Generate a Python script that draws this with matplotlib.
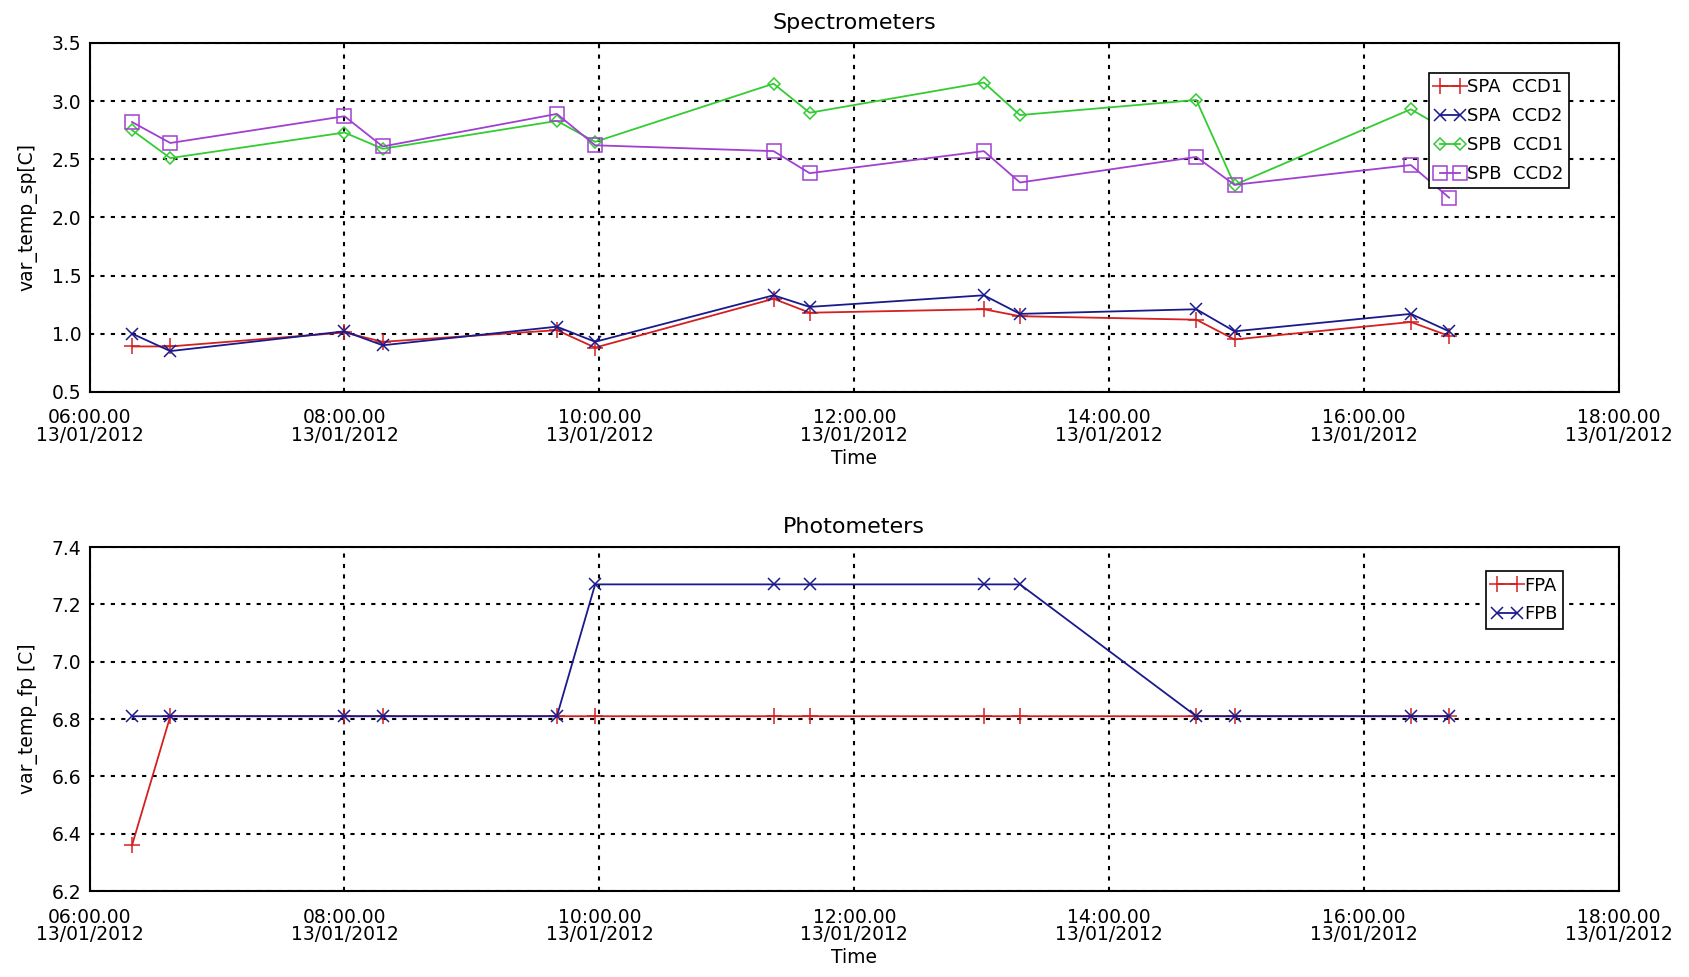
import matplotlib
matplotlib.use("Agg")
import matplotlib.pyplot as plt
from datetime import datetime

times = ["06:20", "06:38", "08:00", "08:18", "09:40", "09:58", "11:22",
         "11:39", "13:01", "13:18", "14:41", "14:59", "16:22", "16:40"]

spa_ccd1 = [0.89, 0.89, 1.01, 0.93, 1.03, 0.88, 1.30, 1.18, 1.21, 1.15, 1.12, 0.95, 1.10, 0.98]
spa_ccd2 = [1.00, 0.85, 1.02, 0.90, 1.06, 0.93, 1.33, 1.23, 1.33, 1.17, 1.21, 1.02, 1.17, 1.02]
spb_ccd1 = [2.75, 2.51, 2.73, 2.59, 2.83, 2.65, 3.15, 2.90, 3.16, 2.88, 3.01, 2.28, 2.93, 2.74]
spb_ccd2 = [2.82, 2.64, 2.87, 2.61, 2.89, 2.62, 2.57, 2.38, 2.57, 2.30, 2.52, 2.28, 2.45, 2.17]

fpa = [6.36, 6.81, 6.81, 6.81, 6.81, 6.81, 6.81, 6.81, 6.81, 6.81, 6.81, 6.81, 6.81, 6.81]
fpb = [6.81, 6.81, 6.81, 6.81, 6.81, 7.27, 7.27, 7.27, 7.27, 7.27, 6.81, 6.81, 6.81, 6.81]

x_ticks = ["06:00", "08:00", "10:00", "12:00", "14:00", "16:00", "18:00"]

day = "2012-01-13 "
t = [datetime.strptime(day + s, "%Y-%m-%d %H:%M") for s in times]
xt = [datetime.strptime(day + s, "%Y-%m-%d %H:%M") for s in x_ticks]
xt_labels = [s + ".00\n13/01/2012" for s in x_ticks]

plt.rcParams['font.family'] = ['DejaVu Sans']

fig = plt.figure(figsize=(16.9, 9.77), dpi=100)
ax1 = fig.add_axes([0.053, 0.599, 0.905, 0.357])
ax2 = fig.add_axes([0.053, 0.088, 0.905, 0.352])

RED = '#d42020'
BLUE = '#1a1a8c'
GREEN = '#33cc33'
PURPLE = '#a040d0'

ax1.plot(t, spa_ccd1, color=RED, marker='+', ms=11, mew=1.1, lw=1.3, label='SPA  CCD1')
ax1.plot(t, spa_ccd2, color=BLUE, marker='x', ms=9, mew=1.1, lw=1.3, label='SPA  CCD2')
ax1.plot(t, spb_ccd1, color=GREEN, marker='D', ms=6.5, mew=1.1, mfc='none', lw=1.3, label='SPB  CCD1')
ax1.plot(t, spb_ccd2, color=PURPLE, marker='s', ms=9.5, mew=1.1, mfc='none', lw=1.3, label='SPB  CCD2')

ax2.plot(t, fpa, color=RED, marker='+', ms=11, mew=1.1, lw=1.3, label='FPA')
ax2.plot(t, fpb, color=BLUE, marker='x', ms=9, mew=1.1, lw=1.3, label='FPB')

for ax, title, ylab in [(ax1, 'Spectrometers', 'var_temp_sp[C]'),
                        (ax2, 'Photometers', 'var_temp_fp [C]')]:
    ax.set_xlim(xt[0], xt[-1])
    ax.set_xticks(xt)
    ax.set_xticklabels(xt_labels, fontsize=13.5, linespacing=0.9)
    ax.set_title(title, fontsize=16, pad=10)
    ax.set_ylabel(ylab, fontsize=13.5, labelpad=10)
    ax.set_xlabel('Time', fontsize=13.5, labelpad=3)
    ax.grid(True, color='black', linestyle=(0, (2, 3)), linewidth=1.5)
    ax.tick_params(axis='x', length=0, labelsize=13.5, pad=12)
    ax.tick_params(axis='y', length=0, labelsize=13.5, pad=6)
    for sp in ax.spines.values():
        sp.set_linewidth(1.5)

ax1.set_ylim(0.5, 3.5)
ax1.set_yticks([0.5, 1.0, 1.5, 2.0, 2.5, 3.0, 3.5])
ax1.set_yticklabels([f"{v:.1f}" for v in [0.5, 1.0, 1.5, 2.0, 2.5, 3.0, 3.5]])
ax2.set_ylim(6.2, 7.4)
ax2.set_yticks([6.2, 6.4, 6.6, 6.8, 7.0, 7.2, 7.4])
ax2.set_yticklabels([f"{v:.1f}" for v in [6.2, 6.4, 6.6, 6.8, 7.0, 7.2, 7.4]])

leg1 = ax1.legend(loc='upper left', bbox_to_anchor=(0.876, 0.914), numpoints=2,
                  fontsize=13, frameon=True, fancybox=False, edgecolor='black',
                  framealpha=1, borderpad=0.3, handlelength=1.7, handletextpad=0.1,
                  labelspacing=0.6, borderaxespad=0)
leg1.get_frame().set_linewidth(1.2)
leg2 = ax2.legend(loc='upper left', bbox_to_anchor=(0.913, 0.930), numpoints=2,
                  fontsize=13, frameon=True, fancybox=False, edgecolor='black',
                  framealpha=1, borderpad=0.3, handlelength=1.7, handletextpad=0.1,
                  labelspacing=0.6, borderaxespad=0)
leg2.get_frame().set_linewidth(1.2)

fig.savefig('out.png', dpi=100)
